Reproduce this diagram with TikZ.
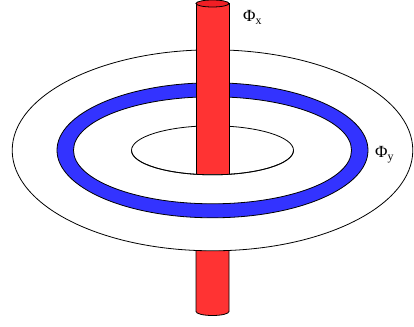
\documentclass[tikz,border=0pt]{standalone}
\usepackage{fontspec}
\setmainfont{Liberation Serif}
\definecolor{rodred}{HTML}{FF3333}
\definecolor{capred}{HTML}{F01E24}
\definecolor{ringblue}{HTML}{3333FF}
\tikzset{
  outline/.style={draw=black, line width=0.8pt},
  rod/.style={fill=rodred, draw=black, line width=0.8pt},
  rodcap/.style={fill=capred, draw=black, line width=0.8pt},
  ring/.style={fill=ringblue, draw=black, line width=0.8pt, even odd rule},
  fluxlabel/.style={font=\fontsize{17}{20}\selectfont, inner sep=0pt, anchor=base west}
}

\begin{document}
\begin{tikzpicture}[x=1pt, y=1pt]

% sizes (pt, origin at centre of the disc)
\def\rodw{16.5}     % half width of the rod
\def\rodtop{146.8}  % centre of the top cap
\def\rodbot{-161.2} % centre of the bottom end

\useasboundingbox (-212.5,-175.7) rectangle (201.5,150.3);

% lower piece of the rod, behind the disc
\draw[rod] (-\rodw,-98) -- (-\rodw,\rodbot)
  arc[start angle=180, end angle=360, x radius=\rodw, y radius=4] -- (\rodw,-98);

% disc
\draw[outline, fill=white] (0,0) ellipse[x radius=200.3, y radius=100.5];

% blue loop
\draw[ring] (0,0) ellipse[x radius=155.5, y radius=67.5]
            (0,0) ellipse[x radius=139, y radius=53.5];

% hole
\draw[outline] (0,0) ellipse[x radius=81, y radius=24.5];

% upper piece of the rod, through the hole
\draw[rod] (-\rodw,-24) -- (-\rodw,\rodtop) -- (\rodw,\rodtop) -- (\rodw,-24);
\draw[rodcap] (0,\rodtop) ellipse[x radius=\rodw, y radius=3.5];
\draw[outline] (-81,0) arc[start angle=180, end angle=360, x radius=81, y radius=24.5];

% labels
\node[fluxlabel] (phix) at (30.5,128.3) {Φ\textsubscript{x}};
\node[fluxlabel] (phiy) at (162.5,-7.7) {Φ\textsubscript{y}};

\end{tikzpicture}
\end{document}
